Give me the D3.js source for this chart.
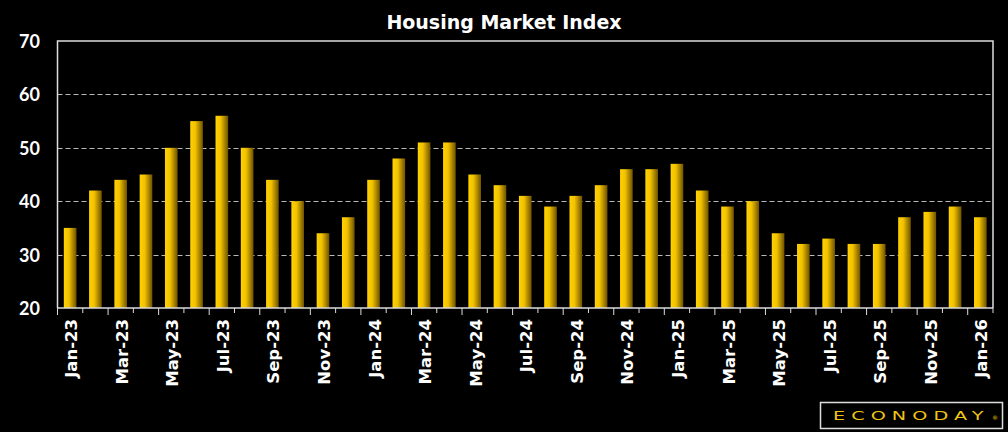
<!DOCTYPE html>
<html>
<head>
<meta charset="utf-8">
<script src="https://cdn.jsdelivr.net/npm/d3@7"></script>
<style>
	body { margin: 0; background: #000; }
	svg { display: block; }
</style>
</head>
<body>
<div id="chart"></div>
<script>
// data
var months = [
	'Jan-23','Feb-23','Mar-23','Apr-23','May-23','Jun-23','Jul-23','Aug-23','Sep-23','Oct-23','Nov-23','Dec-23',
	'Jan-24','Feb-24','Mar-24','Apr-24','May-24','Jun-24','Jul-24','Aug-24','Sep-24','Oct-24','Nov-24','Dec-24',
	'Jan-25','Feb-25','Mar-25','Apr-25','May-25','Jun-25','Jul-25','Aug-25','Sep-25','Oct-25','Nov-25','Dec-25',
	'Jan-26'
];
var values = [
	35,42,44,45,50,55,56,50,44,40,34,37,
	44,48,51,51,45,43,41,39,41,43,46,46,
	47,42,39,40,34,32,33,32,32,37,38,39,
	37
];
var y_ticks = [20,30,40,50,60,70];

var chart_width  = 1008;
var chart_height = 432;
var plot_left = 57.5, plot_right = 993, plot_top = 41, plot_bottom = 308;

var svg = d3.select('#chart')
	.append('svg')
	.attr('width', chart_width)
	.attr('height', chart_height)
	.style('background', '#000');

// gradient for bars
var grad = svg.append('defs').append('linearGradient')
	.attr('id', 'bar_grad')
	.attr('x1', '0%').attr('x2', '100%')
	.attr('y1', '0%').attr('y2', '0%');
grad.append('stop').attr('offset', '0%').attr('stop-color', '#ffd200');
grad.append('stop').attr('offset', '40%').attr('stop-color', '#f2c200');
grad.append('stop').attr('offset', '100%').attr('stop-color', '#6e5200');

// scales
var x_scale = d3.scaleBand()
	.domain(months)
	.range([plot_left, plot_right])
	.paddingInner(0.5)
	.paddingOuter(0.25);

var y_scale = d3.scaleLinear()
	.domain([20, 70])
	.range([plot_bottom, plot_top]);

// title
svg.append('text')
	.text('Housing Market Index')
	.attr('x', 504)
	.attr('y', 29)
	.attr('text-anchor', 'middle')
	.attr('font-family', '"DejaVu Sans", sans-serif')
	.attr('font-weight', 'bold')
	.attr('font-size', 19)
	.attr('fill', '#fff');

// gridlines
svg.selectAll('line.grid')
	.data(y_ticks.filter(function(d){ return d > 20 && d < 70; }))
	.enter()
	.append('line')
	.attr('class', 'grid')
	.attr('x1', plot_left).attr('x2', plot_right)
	.attr('y1', function(d){ return Math.round(y_scale(d)) + 0.5; })
	.attr('y2', function(d){ return Math.round(y_scale(d)) + 0.5; })
	.attr('stroke', '#bbb')
	.attr('stroke-width', 1)
	.attr('stroke-dasharray', '5,3');

// bars
svg.selectAll('rect.bar')
	.data(values)
	.enter()
	.append('rect')
	.attr('class', 'bar')
	.attr('x', function(d, i){ return x_scale(months[i]); })
	.attr('y', function(d){ return y_scale(d); })
	.attr('width', x_scale.bandwidth())
	.attr('height', function(d){ return plot_bottom - y_scale(d); })
	.attr('fill', 'url(#bar_grad)');

// plot frame (top, left, right)
svg.append('path')
	.attr('d', 'M' + plot_left + ',' + plot_bottom + 'V' + plot_top + 'H' + plot_right + 'V' + plot_bottom)
	.attr('fill', 'none')
	.attr('stroke', '#ddd')
	.attr('stroke-width', 1.5);

// y axis labels
svg.selectAll('text.ylab')
	.data(y_ticks)
	.enter()
	.append('text')
	.attr('class', 'ylab')
	.text(function(d){ return d; })
	.attr('x', 40)
	.attr('y', function(d){ return y_scale(d) + 7; })
	.attr('text-anchor', 'end')
	.attr('font-family', 'Lato, "DejaVu Sans", sans-serif')
	.attr('font-weight', 'bold')
	.attr('font-size', 18)
	.attr('fill', '#fff');

// x axis line + ticks at category boundaries
var cat_w = (plot_right - plot_left) / months.length;
svg.append('line')
	.attr('x1', plot_left).attr('x2', plot_right)
	.attr('y1', plot_bottom).attr('y2', plot_bottom)
	.attr('stroke', '#ddd')
	.attr('stroke-width', 1.5);

svg.selectAll('line.xtick')
	.data(d3.range(months.length + 1))
	.enter()
	.append('line')
	.attr('class', 'xtick')
	.attr('x1', function(i){ return plot_left + i * cat_w; })
	.attr('x2', function(i){ return plot_left + i * cat_w; })
	.attr('y1', plot_bottom)
	.attr('y2', function(i){ return i % 2 === 0 ? plot_bottom + 7 : plot_bottom + 5; })
	.attr('stroke', '#ddd')
	.attr('stroke-width', 1);

// x labels, every other month
svg.selectAll('text.xlab')
	.data(months.filter(function(d, i){ return i % 2 === 0; }))
	.enter()
	.append('text')
	.attr('class', 'xlab')
	.text(function(d){ return d; })
	.attr('transform', function(d){
		var cx = x_scale(d) + x_scale.bandwidth() / 2 + 7;
		return 'translate(' + cx + ',' + (plot_bottom + 11) + ') rotate(-90)';
	})
	.attr('text-anchor', 'end')
	.attr('font-family', '"DejaVu Sans", sans-serif')
	.attr('font-weight', 'bold')
	.attr('font-size', 16.5)
	.attr('fill', '#fff');

// logo
var logo = svg.append('g');
logo.append('rect')
	.attr('x', 820.5).attr('y', 402.5)
	.attr('width', 182).attr('height', 26)
	.attr('fill', '#000')
	.attr('stroke', '#ddd')
	.attr('stroke-width', 1.5);
logo.append('text')
	.text('ECONODAY')
	.attr('transform', 'translate(833,419.5) scale(1.6,1)')
	.attr('font-family', '"DejaVu Sans", sans-serif')
	.attr('font-size', 12)
	.attr('letter-spacing', 3.8)
	.attr('fill', '#f0c419');
logo.append('text')
	.text('®')
	.attr('x', 992)
	.attr('y', 420)
	.attr('font-family', '"DejaVu Sans", sans-serif')
	.attr('font-size', 6)
	.attr('fill', '#f0c419');
</script>
</body>
</html>
